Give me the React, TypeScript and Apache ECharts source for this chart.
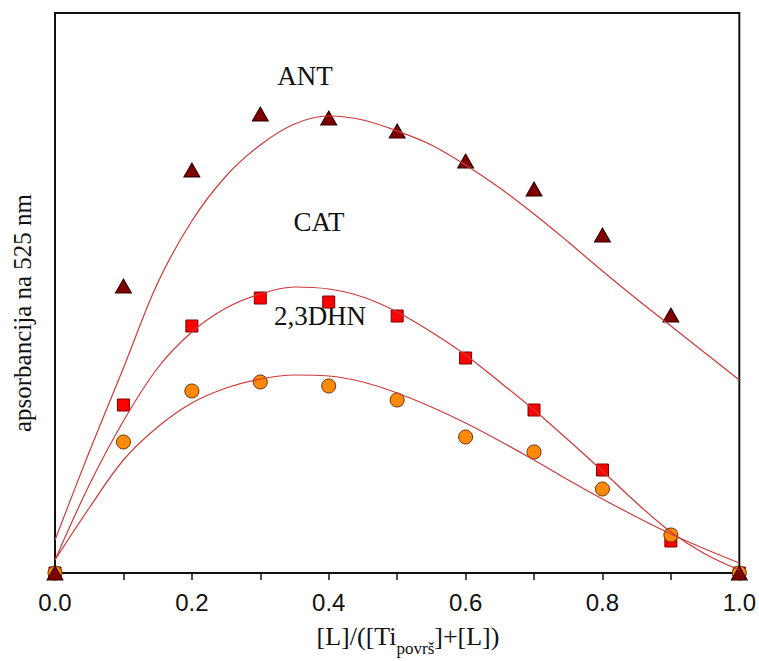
import React, { useEffect, useRef } from "react";
import * as echarts from "echarts";

// Mole fraction of ligand
const fractions = [0, 0.1, 0.2, 0.3, 0.4, 0.5, 0.6, 0.7, 0.8, 0.9, 1.0];
// Measured absorbance (arbitrary units)
const antValues = [0, 0.287, 0.403, 0.459, 0.455, 0.442, 0.412, 0.384, 0.338, 0.258, 0];
const catValues = [0, 0.168, 0.247, 0.275, 0.271, 0.257, 0.215, 0.163, 0.103, 0.032, 0];
const dhnValues = [0, 0.131, 0.182, 0.191, 0.187, 0.173, 0.136, 0.121, 0.084, 0.038, 0];

// Fitted curves
const fitX = [0, 0.05, 0.1, 0.15, 0.2, 0.25, 0.3, 0.35, 0.4, 0.45, 0.5, 0.55, 0.6, 0.65, 0.7, 0.75, 0.8, 0.85, 0.9, 0.95, 1.0];
const antFit = [0.033, 0.121, 0.205, 0.290, 0.352, 0.397, 0.428, 0.449, 0.457, 0.453, 0.442, 0.428, 0.408, 0.385, 0.359, 0.331, 0.302, 0.274, 0.247, 0.220, 0.193];
const catFit = [0.013, 0.088, 0.152, 0.205, 0.241, 0.265, 0.279, 0.286, 0.284, 0.276, 0.261, 0.241, 0.218, 0.191, 0.163, 0.133, 0.102, 0.070, 0.041, 0.019, 0.003];
const dhnFit = [0.013, 0.065, 0.113, 0.146, 0.170, 0.185, 0.194, 0.198, 0.197, 0.191, 0.180, 0.166, 0.150, 0.132, 0.113, 0.093, 0.074, 0.056, 0.039, 0.024, 0.010];

const xTicks = [0, 0.2, 0.4, 0.6, 0.8, 1.0];

const serif = "'Liberation Serif', 'Times New Roman', Times, serif";
const sans = "'Liberation Sans Narrow', 'Arial Narrow', 'Liberation Sans', Arial, sans-serif";

const pairs = (xs: number[], ys: number[]) => xs.map((x, i) => [x, ys[i]]);

export default function App() {
  const ref = useRef<HTMLDivElement>(null);
  useEffect(() => {
    if (!ref.current) return;
    const chart = echarts.init(ref.current, undefined, { renderer: "svg" });
    const fitLine = (name: string, ys: number[]) => ({
      name,
      type: "line",
      data: pairs(fitX, ys),
      smooth: 0.35,
      showSymbol: false,
      symbol: "none",
      z: 5,
      lineStyle: { color: "#cc3a3a", width: 1.2 },
    });
    chart.setOption({
      animation: false,
      grid: {
        left: 55,
        right: 18,
        top: 13,
        bottom: 88,
        show: true,
        borderColor: "#111",
        borderWidth: 2,
        backgroundColor: "transparent",
      },
      xAxis: {
        type: "value",
        min: 0,
        max: 1,
        interval: 0.1,
        axisLine: { show: true, lineStyle: { color: "#111", width: 2 } },
        axisTick: { show: true, inside: false, length: 7, lineStyle: { color: "#111", width: 1.5 } },
        axisLabel: {
          margin: 17,
          fontSize: 24,
          fontFamily: sans,
          color: "#111",
          formatter: (v: number) => {
            const t = xTicks.find((k) => Math.abs(k - v) < 1e-6);
            return t === undefined ? "" : t.toFixed(1);
          },
        },
        splitLine: { show: false },
      },
      yAxis: {
        type: "value",
        min: 0,
        max: 0.56,
        axisLine: { show: true, lineStyle: { color: "#111", width: 2 } },
        axisTick: { show: false },
        axisLabel: { show: false },
        splitLine: { show: false },
      },
      series: [
        {
          name: "CAT",
          type: "scatter",
          data: pairs(fractions, catValues),
          symbol: "rect",
          symbolSize: 12,
          z: 3,
          itemStyle: { color: "#ff0000", borderColor: "#7a0000", borderWidth: 1, opacity: 1 },
        },
        {
          name: "2,3DHN",
          type: "scatter",
          data: pairs(fractions, dhnValues),
          symbol: "circle",
          symbolSize: 14,
          z: 3,
          itemStyle: { color: "#ff8a0a", borderColor: "#6a3300", borderWidth: 1, opacity: 1 },
        },
        {
          name: "ANT",
          type: "scatter",
          data: pairs(fractions, antValues),
          symbol: "triangle",
          symbolSize: [16, 14],
          z: 3,
          itemStyle: { color: "#7f0000", borderColor: "#2a0000", borderWidth: 1, opacity: 1 },
        },
        fitLine("ANT fit", antFit),
        fitLine("CAT fit", catFit),
        fitLine("2,3DHN fit", dhnFit),
      ],
      graphic: [
        {
          type: "text",
          x: 305,
          y: 76,
          style: { text: "ANT", fontSize: 27, fontFamily: serif, fill: "#111", align: "center", verticalAlign: "middle" },
        },
        {
          type: "text",
          x: 319,
          y: 222,
          style: { text: "CAT", fontSize: 27, fontFamily: serif, fill: "#111", align: "center", verticalAlign: "middle" },
        },
        {
          type: "text",
          x: 320,
          y: 316,
          style: { text: "2,3DHN", fontSize: 27, fontFamily: serif, fill: "#111", align: "center", verticalAlign: "middle" },
        },
        {
          type: "text",
          x: 22,
          y: 313,
          rotation: Math.PI / 2,
          style: {
            text: "apsorbancija na 525 nm",
            fontSize: 25,
            fontFamily: serif,
            fill: "#111",
            align: "center",
            verticalAlign: "middle",
          },
        },
        {
          type: "text",
          x: 408,
          y: 657,
          style: {
            text: "{a|[L]/([Ti}{s|površ}{a|]+[L])}",
            align: "center",
            verticalAlign: "bottom",
            fill: "#111",
            rich: {
              a: { fontSize: 26, fontFamily: serif, fill: "#111", verticalAlign: "bottom", padding: [0, 0, 8, 0] },
              s: { fontSize: 17, fontFamily: serif, fill: "#111", verticalAlign: "bottom" },
            },
          },
        },
      ],
    });
    return () => chart.dispose();
  }, []);
  return (
    <div
      ref={ref}
      style={{ position: "absolute", left: 0, top: 0, width: 759, height: 661, background: "#fff" }}
    />
  );
}
